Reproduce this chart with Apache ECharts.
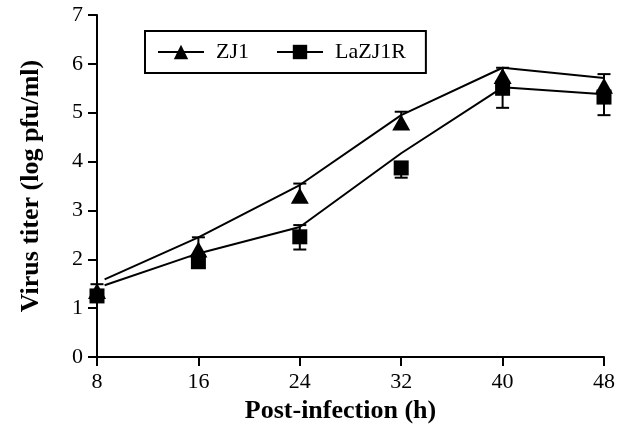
<!DOCTYPE html>
<html>
<head>
<meta charset="utf-8">
<script src="https://cdn.jsdelivr.net/npm/echarts@6/dist/echarts.min.js"></script>
<style>
html,body{margin:0;padding:0;background:#fff;}
#chart{width:623px;height:437px;}
</style>
</head>
<body>
<div id="chart"></div>
<script>
// Time points (h)
var hours = [8, 16, 24, 32, 40, 48];
// Measured means
var zj1Mean = [1.35, 2.2, 3.3, 4.8, 5.75, 5.55];
var lazMean = [1.25, 1.95, 2.46, 3.87, 5.5, 5.32];
// Error bar ends (equal to mean where no bar is visible)
var zj1ErrLow = [1.35, 2.2, 3.3, 4.8, 5.75, 5.55];
var zj1ErrHigh = [1.49, 2.45, 3.55, 5.02, 5.92, 5.79];
var lazErrLow = [1.25, 1.95, 2.2, 3.67, 5.1, 4.95];
var lazErrHigh = [1.25, 1.95, 2.7, 3.87, 5.5, 5.32];
// Connecting curves
var zj1LineX = [8.6, 16, 24, 32, 40, 48];
var zj1LineY = [1.59, 2.45, 3.52, 4.95, 5.92, 5.71];
var lazLineX = [8.6, 16, 24, 32, 40, 48];
var lazLineY = [1.47, 2.12, 2.66, 4.17, 5.52, 5.38];

var serif = 'Liberation Serif';

function zip(a, b) { return a.map(function (v, i) { return [v, b[i]]; }); }
function errData(mean, lo, hi) {
  return hours.map(function (h, i) { return [h, lo[i], hi[i], mean[i]]; });
}
function errRender(params, api) {
  var x = api.value(0), lo = api.value(1), hi = api.value(2), m = api.value(3);
  var pLo = api.coord([x, lo]), pHi = api.coord([x, hi]);
  var w = 6.5;
  var st = {stroke: '#000', lineWidth: 2};
  var ch = [{type: 'line', shape: {x1: pLo[0], y1: pLo[1], x2: pHi[0], y2: pHi[1]}, style: st}];
  if (hi !== m) ch.push({type: 'line', shape: {x1: pHi[0] - w, y1: pHi[1], x2: pHi[0] + w, y2: pHi[1]}, style: st});
  if (lo !== m) ch.push({type: 'line', shape: {x1: pLo[0] - w, y1: pLo[1], x2: pLo[0] + w, y2: pLo[1]}, style: st});
  return {type: 'group', children: ch};
}

var chart = echarts.init(document.getElementById('chart'), null, {renderer: 'canvas'});
chart.setOption({
  backgroundColor: '#fff',
  animation: false,
  grid: {left: 97, right: 19, top: 15, bottom: 80, containLabel: false},
  legend: {
    left: 145, top: 31,
    data: ['ZJ1', 'LaZJ1R'],
    borderColor: '#000', borderWidth: 2, borderRadius: 0,
    padding: [10, 20, 10, 12],
    itemWidth: 46, itemHeight: 18, itemGap: 27,
    textStyle: {fontFamily: serif, fontSize: 22, color: '#000', padding: [0, 0, 0, 7]}
  },
  xAxis: {
    type: 'value', min: 8, max: 48, interval: 8,
    name: 'Post-infection (h)', nameLocation: 'middle', nameGap: 40,
    nameTextStyle: {fontFamily: serif, fontSize: 26, fontWeight: 'bold', color: '#000', padding: [0, 20, 0, 0]},
    axisLine: {lineStyle: {color: '#000', width: 2}},
    axisTick: {length: 9, lineStyle: {color: '#000', width: 2}},
    axisLabel: {fontFamily: serif, fontSize: 22, color: '#000', margin: 14},
    splitLine: {show: false}
  },
  yAxis: {
    type: 'value', min: 0, max: 7, interval: 1,
    name: 'Virus titer (log pfu/ml)', nameLocation: 'middle', nameGap: 53,
    nameTextStyle: {fontFamily: serif, fontSize: 26, fontWeight: 'bold', color: '#000'},
    axisLine: {show: true, lineStyle: {color: '#000', width: 2}},
    axisTick: {show: true, length: 9, lineStyle: {color: '#000', width: 2}},
    axisLabel: {fontFamily: serif, fontSize: 22, color: '#000', margin: 14},
    splitLine: {show: false}
  },
  series: [
    {name: 'ZJ1', type: 'line', data: zip(zj1LineX, zj1LineY), symbol: 'triangle', showSymbol: false,
     lineStyle: {color: '#000', width: 2}, itemStyle: {color: '#000'}, z: 2},
    {name: 'LaZJ1R', type: 'line', data: zip(lazLineX, lazLineY), symbol: 'rect', showSymbol: false,
     lineStyle: {color: '#000', width: 2}, itemStyle: {color: '#000'}, z: 2},
    {name: 'zj1Err', type: 'custom', data: errData(zj1Mean, zj1ErrLow, zj1ErrHigh), renderItem: errRender,
     encode: {x: 0, y: [1, 2]}, z: 3, clip: false},
    {name: 'lazErr', type: 'custom', data: errData(lazMean, lazErrLow, lazErrHigh), renderItem: errRender,
     encode: {x: 0, y: [1, 2]}, z: 3, clip: false},
    {name: 'zj1Pts', type: 'scatter', data: zip(hours, zj1Mean), symbol: 'triangle', symbolSize: [18, 16],
     itemStyle: {color: '#000', opacity: 1}, z: 4},
    {name: 'lazPts', type: 'scatter', data: zip(hours, lazMean), symbol: 'rect', symbolSize: [15, 15],
     itemStyle: {color: '#000', opacity: 1}, z: 4}
  ]
});
</script>
</body>
</html>
